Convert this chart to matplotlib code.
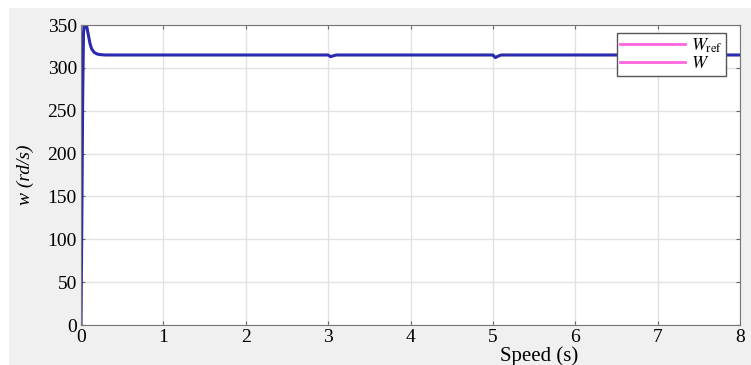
import matplotlib.pyplot as plt
from matplotlib.lines import Line2D

# speed response
t = [0, 0.01, 0.02, 0.03, 0.04, 0.05, 0.07, 0.09, 0.11, 0.13, 0.16, 0.2, 0.25,
     0.3, 2.98, 3.0, 3.03, 3.06, 3.1, 4.98, 5.0, 5.03, 5.06, 5.1, 8]
w = [0, 120, 260, 340, 352, 353, 348, 338, 328, 322, 318, 316, 315.3,
     315, 315, 315, 313, 314, 315, 315, 315, 312, 313.5, 315, 315]
xticks = [0, 1, 2, 3, 4, 5, 6, 7, 8]
yticks = [0, 50, 100, 150, 200, 250, 300, 350]

plt.rcParams['font.family'] = ['Liberation Serif', 'DejaVu Serif']
plt.rcParams['mathtext.fontset'] = 'stix'

fig = plt.figure(figsize=(7.51, 3.65), dpi=100)
fig.patch.set_facecolor('white')
bg = plt.Rectangle((9/751, 0), 742/751, 357/365, transform=fig.transFigure,
                   facecolor='#f0f0f0', edgecolor='none', zorder=-1)
fig.patches.append(bg)

ax = fig.add_axes([81/751, 40/365, 659/751, 300/365])
ax.plot(t, w, color='#2a2ab0', lw=2.2)
ax.set_xlim(0, 8)
ax.set_ylim(0, 350)
ax.set_xticks(xticks)
ax.set_yticks(yticks)
ax.grid(True, color='#e2e2e2', lw=1)
ax.tick_params(direction='in', length=3, labelsize=14, color='#666666',
               top=True, right=True, pad=3)
for s in ax.spines.values():
    s.set_color('#777777')

ax.set_ylabel('w (rd/s)', fontsize=14, style='italic', labelpad=10)
ax.set_xlabel('Speed (s)', fontsize=15, va='center')
ax.xaxis.set_label_coords(0.695, -0.103)

# both legend entries are drawn magenta in the source figure
handles = [Line2D([], [], color='#ff66dd', lw=2),
           Line2D([], [], color='#ff66dd', lw=2)]
leg = ax.legend(handles, [r'$W_{\mathrm{ref}}$', r'$W$'], loc='upper right',
                bbox_to_anchor=(0.979, 0.973), borderaxespad=0, fontsize=13,
                fancybox=False, handlelength=3.6, borderpad=0.2,
                labelspacing=0.0, handletextpad=0.3, framealpha=1)
leg.get_frame().set_edgecolor('#555555')

fig.savefig('out.png', dpi=100)
